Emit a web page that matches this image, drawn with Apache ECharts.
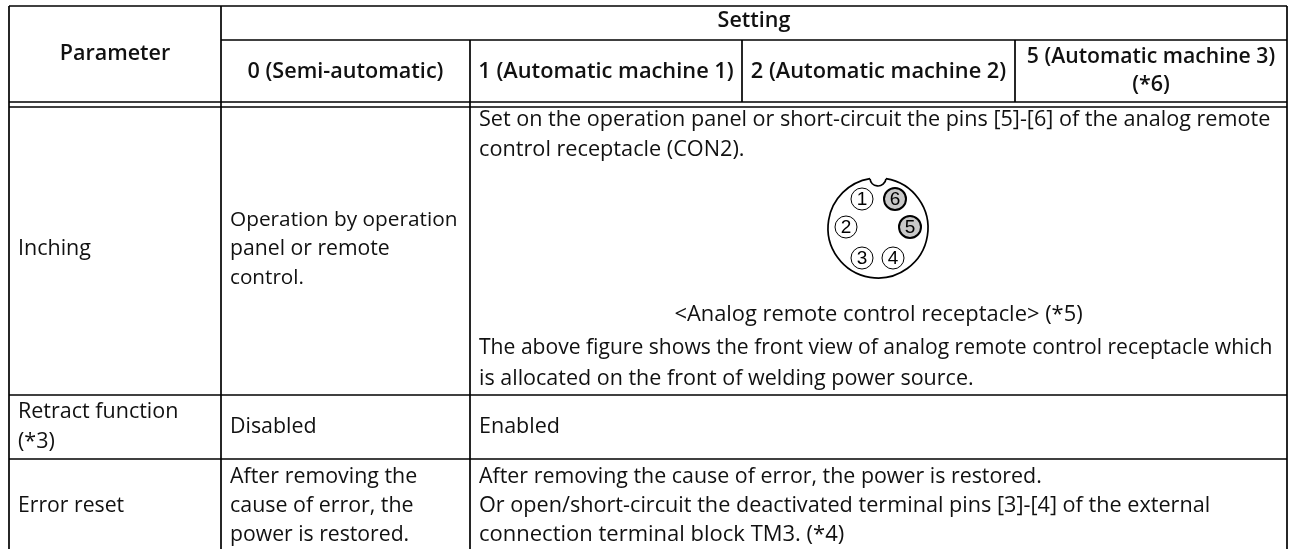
<!DOCTYPE html>
<html lang="en">
<head>
<meta charset="UTF-8">
<title>Settings table</title>
<script src="https://cdn.jsdelivr.net/npm/echarts@6/dist/echarts.min.js"></script>
<style>html,body{margin:0;background:#fff}#main{width:1292px;height:549px}</style>
</head>
<body>
<div id="main"></div>
<script>
// table contents
const parameters = ['Inching', 'Retract function\n(*3)', 'Error reset'];
const settingTitle = 'Setting';
const parameterTitle = 'Parameter';
const settingNumbers = ['0', '1', '2', '5'];
const settingNames = ['(Semi-automatic)', '(Automatic machine 1)', '(Automatic machine 2)', '(Automatic machine 3)'];
const semiAutoCells = ['Operation by operation\npanel or remote\ncontrol.', 'Disabled', 'After removing the\ncause of error, the\npower is restored.'];
const inchingTop = 'Set on the operation panel or short-circuit the pins [5]-[6] of the analog remote\ncontrol receptacle (CON2).';
const figureCaption = '<Analog remote control receptacle> (*5)';
const inchingBottom = 'The above figure shows the front view of analog remote control receptacle which\nis allocated on the front of welding power source.';
const retractAuto = 'Enabled';
const errorAuto = 'After removing the cause of error, the power is restored.\nOr open/short-circuit the deactivated terminal pins [3]-[4] of the external\nconnection terminal block TM3. (*4)';
const pinLabels = ['1', '2', '3', '4', '5', '6'];

// table layout, in page pixels
const colX = [9, 221, 470, 742, 1015, 1287];
const rowY = [6, 40, 102, 107, 395, 459, 549];
const pad = 9;
const font = '"Open Sans"';

const rules = [
  [colX[0], rowY[0], colX[5], rowY[0]], [colX[1], rowY[1], colX[5], rowY[1]],
  [colX[0], rowY[2], colX[5], rowY[2]], [colX[0], rowY[3], colX[5], rowY[3]],
  [colX[0], rowY[4], colX[5], rowY[4]], [colX[0], rowY[5], colX[5], rowY[5]],
  [colX[0], rowY[0], colX[0], rowY[6]], [colX[1], rowY[0], colX[1], rowY[6]],
  [colX[2], rowY[1], colX[2], rowY[6]], [colX[3], rowY[1], colX[3], rowY[2]],
  [colX[4], rowY[1], colX[4], rowY[2]], [colX[5], rowY[0], colX[5], rowY[6]]
];

// every text line gets its own baseline row and font size, the source font runs a bit uneven
const textItems = [];
function addBlock(text, x, ys, sizes, align, bold) {
  text.split('\n').forEach((line, i) => {
    textItems.push({ x: x, y: ys[i], t: line, size: sizes[i], align: align || 'left', bold: !!bold });
  });
}
const col0 = colX[0] + pad, col1 = colX[1] + pad, col2 = colX[2] + pad;
addBlock(parameterTitle, (colX[0] + colX[1]) / 2, [54], [21.5], 'center', true);
addBlock(settingTitle, (colX[1] + colX[5]) / 2, [21], [21.5], 'center', true);
addBlock(settingNumbers[0] + ' ' + settingNames[0], (colX[1] + colX[2]) / 2, [72], [21.6], 'center', true);
addBlock(settingNumbers[1] + ' ' + settingNames[1], (colX[2] + colX[3]) / 2, [72], [21.8], 'center', true);
addBlock(settingNumbers[2] + ' ' + settingNames[2], (colX[3] + colX[4]) / 2, [72], [21.8], 'center', true);
addBlock(settingNumbers[3] + ' ' + settingNames[3] + '\n(*6)', (colX[4] + colX[5]) / 2, [57, 85], [21.2, 21.5], 'center', true);
addBlock(parameters[0], col0, [249], [21.5]);
addBlock(parameters[1], col0, [412, 442], [21.5, 21.5]);
addBlock(parameters[2], col0, [506], [21.2]);
addBlock(semiAutoCells[0], col1, [220, 249, 278], [20.8, 21.2, 20.7]);
addBlock(semiAutoCells[1], col1, [427], [21.4]);
addBlock(semiAutoCells[2], col1, [477, 506, 535], [21.4, 21.4, 21.2]);
addBlock(inchingTop, col2, [120, 150], [21.6, 21.7]);
addBlock(figureCaption, (colX[2] + colX[5]) / 2, [315], [21.9], 'center');
addBlock(inchingBottom, col2, [348, 379], [21.1, 21.5]);
addBlock(retractAuto, col2, [427], [21.5]);
addBlock(errorAuto, col2, [477, 506, 535], [21.4, 21.65, 22]);

// connector figure: circle with keyway, pins around it
const figC = [878, 228], figR = 50;
const pinPos = [[-16, -29], [-32, -1], [-16, 30], [15, 30], [32, -1], [17, -29]];

const chart = echarts.init(document.getElementById('main'), null, { renderer: 'canvas' });
chart.setOption({
  animation: false,
  grid: { left: 0, right: 0, top: 0, bottom: 0 },
  xAxis: { type: 'value', min: 0, max: 1292, show: false },
  yAxis: { type: 'value', min: 0, max: 549, inverse: true, show: false },
  series: [
    {
      type: 'custom', silent: true, clip: true,
      data: rules,
      renderItem: (p, api) => {
        const a = api.coord([api.value(0), api.value(1)]);
        const b = api.coord([api.value(2), api.value(3)]);
        return { type: 'line', shape: { x1: a[0], y1: a[1], x2: b[0], y2: b[1] }, style: { stroke: '#000', lineWidth: 1.7 } };
      }
    },
    {
      type: 'custom', silent: true,
      data: textItems.map((d, i) => [d.x, d.y, i]),
      renderItem: (p, api) => {
        const d = textItems[api.value(2)];
        const c = api.coord([d.x, d.y]);
        return {
          type: 'text', x: c[0], y: c[1],
          style: {
            text: d.t, fill: '#111', font: (d.bold ? '600 ' : '') + d.size + 'px ' + font,
            align: d.align, verticalAlign: 'middle'
          }
        };
      }
    },
    {
      type: 'custom', silent: true,
      data: pinPos.map((q, i) => [figC[0] + q[0], figC[1] + q[1], i]),
      renderItem: (p, api) => {
        const c = api.coord([api.value(0), api.value(1)]);
        const i = api.value(2);
        const shaded = i >= 4;
        return {
          type: 'group',
          children: [
            { type: 'circle', shape: { cx: c[0], cy: c[1], r: 11 }, style: { fill: shaded ? '#c8c8c8' : '#fff', stroke: '#000', lineWidth: shaded ? 2 : 1 } },
            { type: 'text', x: c[0], y: c[1] + 1, style: { text: pinLabels[i], fill: '#000', font: '19px "Liberation Sans"', align: 'center', verticalAlign: 'middle' } }
          ]
        };
      }
    },
    {
      type: 'custom', silent: true,
      data: [[figC[0], figC[1]]],
      renderItem: (p, api) => {
        const c = api.coord([api.value(0), api.value(1)]);
        const gap = 0.16;
        return {
          type: 'group',
          children: [
            { type: 'arc', shape: { cx: c[0], cy: c[1], r: figR, startAngle: -Math.PI / 2 + gap, endAngle: -Math.PI / 2 - gap + Math.PI * 2 }, style: { fill: null, stroke: '#000', lineWidth: 1.7 } },
            { type: 'arc', shape: { cx: c[0], cy: c[1] - figR, r: 8, startAngle: 0.1, endAngle: Math.PI - 0.1 }, style: { fill: null, stroke: '#000', lineWidth: 1.7 } }
          ]
        };
      }
    }
  ]
});
</script>
</body>
</html>
